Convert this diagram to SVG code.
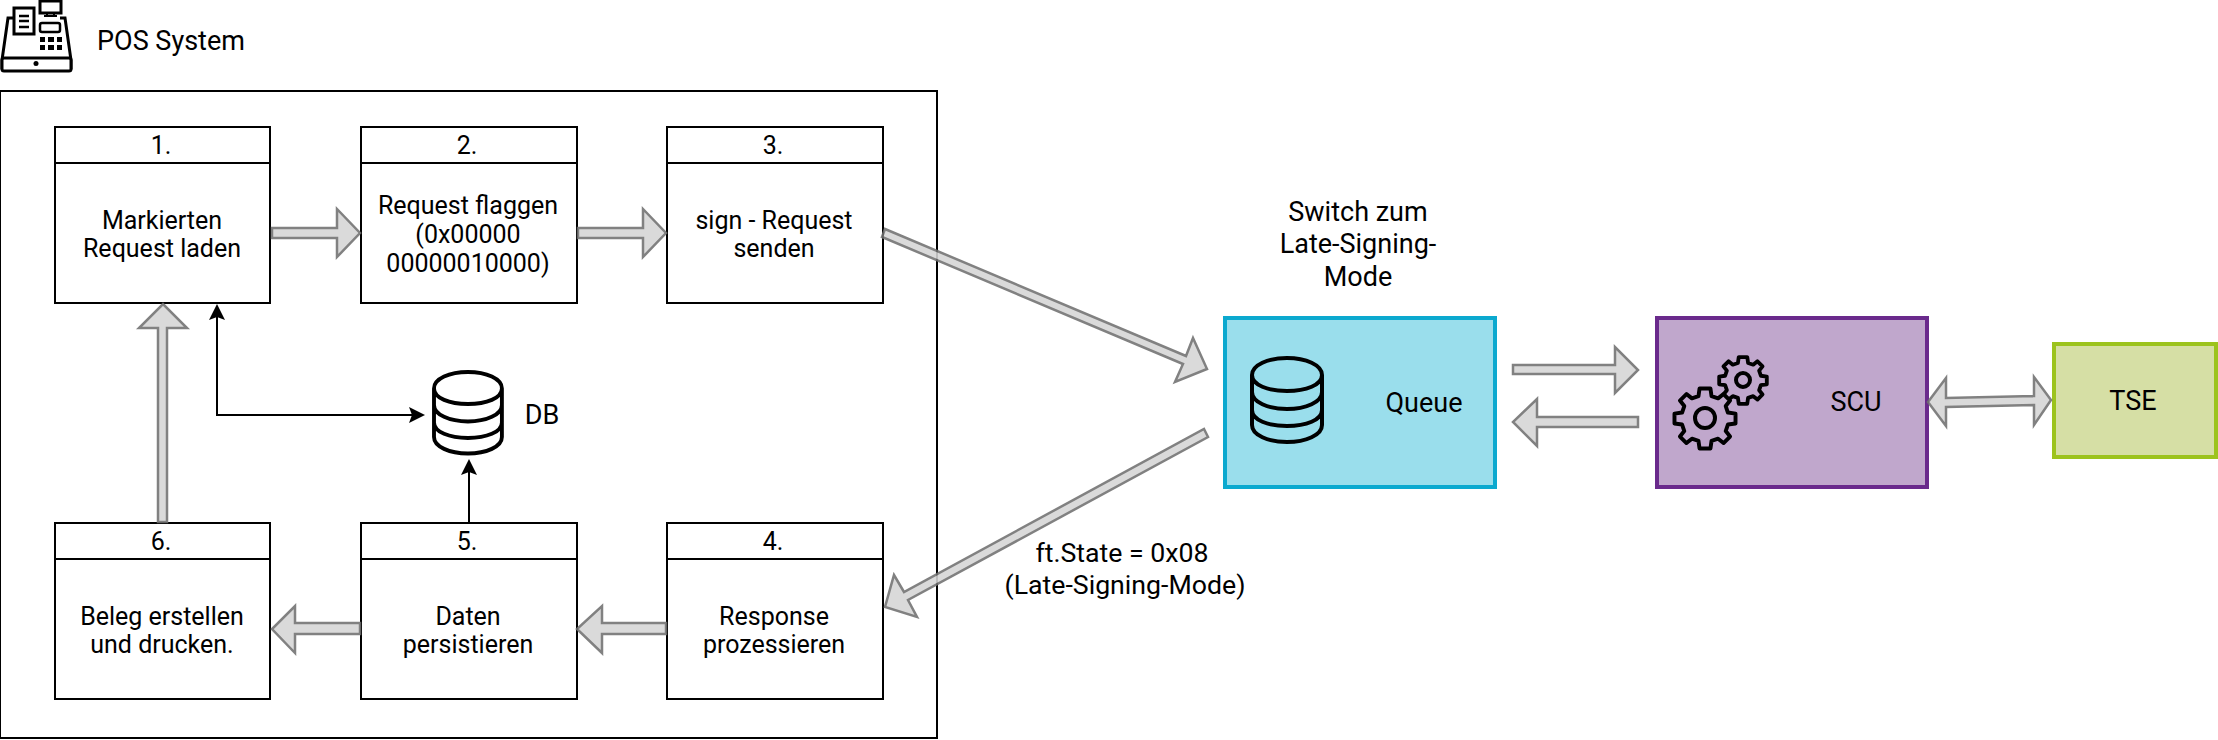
<svg xmlns="http://www.w3.org/2000/svg" width="2218" height="740" viewBox="0 0 2218 740">
<style>
text{font-family:Roboto,"Liberation Sans",sans-serif;font-size:25px;fill:#000;text-anchor:middle}
.lg{font-size:27px}
.b{fill:#fff;stroke:#000;stroke-width:2}
.ar{fill:#d6d6d6;stroke:#707070;stroke-width:2.500;opacity:.88}
.ln{fill:none;stroke:#000;stroke-width:2}
.hd{fill:#000;stroke:none}
.ic{fill:none;stroke:#000;stroke-width:4;stroke-linejoin:round;stroke-linecap:round}
</style>
<defs>
<g id="cyl"><path class="ic" d="M0 17C0 7 16 0 35 0S70 7 70 17V67C70 77 54 84 35 84S0 77 0 67ZM0 17C0 27 16 33 35 33S70 27 70 17M0 34C0 44 16 51 35 51S70 44 70 34M0 52C0 62 16 68 35 68S70 62 70 52"/></g>
<path id="gear" d="M-5 -27L5 -27L6 -20L12 -18L17 -22L23 -16L19 -11L21 -5L28 -4L28 5L21 6L19 12L23 17L17 23L12 19L6 21L5 28L-5 28L-6 21L-12 19L-17 23L-23 17L-19 12L-21 6L-28 5L-28 -4L-21 -5L-19 -11L-23 -16L-17 -22L-12 -18L-6 -20Z"/>
</defs>
<g id="pos-icon">
<path d="M14 18H8L2 60V68H71V60L65 18H60" fill="none" stroke="#000" stroke-width="3"/>
<rect x="2" y="58" width="69" height="13" rx="2" fill="#fff" stroke="#000" stroke-width="3"/>
<circle cx="36" cy="63.500" r="2.500" fill="#000"/>
<rect x="14" y="8" width="20" height="26" fill="#fff" stroke="#000" stroke-width="3"/>
<path d="M19 16H29M19 21H29M19 27H29" stroke="#000" stroke-width="2.500"/>
<rect x="40" y="1" width="21" height="12" fill="#fff" stroke="#000" stroke-width="3"/>
<path d="M47 13V16M54 13V16M44 16H57" stroke="#000" stroke-width="2"/>
<rect x="40" y="23" width="20" height="9" rx="2" fill="#fff" stroke="#000" stroke-width="2.500"/>
<path d="M40 37h5v5h-5zM48 37h6v5h-6zM57 37h5v5h-5zM40 45h5v5h-5zM48 45h6v5h-6zM57 45h5v5h-5z" fill="#000"/>
</g>
<text class="lg" x="171" y="50" id="pos-label">POS System</text>
<g id="pos-frame"><rect class="b" x="0" y="91" width="937" height="647"/></g>

<g id="n1"><rect class="b" x="55" y="127" width="215" height="36"/><rect class="b" x="55" y="163" width="215" height="140"/><text x="161" y="154">1.</text><text x="162" y="229">Markierten</text><text x="162" y="257">Request laden</text></g>
<g id="n2"><rect class="b" x="361" y="127" width="216" height="36"/><rect class="b" x="361" y="163" width="216" height="140"/><text x="467" y="154">2.</text><text x="468" y="214">Request flaggen</text><text x="468" y="243">(0x00000</text><text x="468" y="272">00000010000)</text></g>
<g id="n3"><rect class="b" x="667" y="127" width="216" height="36"/><rect class="b" x="667" y="163" width="216" height="140"/><text x="773" y="154">3.</text><text x="774" y="229">sign - Request</text><text x="774" y="257">senden</text></g>
<g id="n4"><rect class="b" x="667" y="523" width="216" height="36"/><rect class="b" x="667" y="559" width="216" height="140"/><text x="773" y="550">4.</text><text x="774" y="625">Response</text><text x="774" y="653">prozessieren</text></g>
<g id="n5"><rect class="b" x="361" y="523" width="216" height="36"/><rect class="b" x="361" y="559" width="216" height="140"/><text x="467" y="550">5.</text><text x="468" y="625">Daten</text><text x="468" y="653">persistieren</text></g>
<g id="n6"><rect class="b" x="55" y="523" width="215" height="36"/><rect class="b" x="55" y="559" width="215" height="140"/><text x="161" y="550">6.</text><text x="162" y="625">Beleg erstellen</text><text x="162" y="653">und drucken.</text></g>
<g id="db"><use href="#cyl" transform="translate(434 372) scale(.97)"/><text class="lg" x="542" y="424">DB</text></g>

<g id="queue"><rect x="1225" y="318" width="270" height="169" fill="#9adeec" stroke="#0ba9cf" stroke-width="4"/><use href="#cyl" x="1252" y="358"/><text class="lg" x="1424" y="412">Queue</text></g>
<g id="scu"><rect x="1657" y="318" width="270" height="169" fill="#c0a7cc" stroke="#6a2a8c" stroke-width="4"/>
<g fill="#c0a7cc" stroke="#000" stroke-linejoin="round"><use href="#gear" transform="translate(1743 380) scale(.85)" stroke-width="4.500"/><use href="#gear" transform="translate(1705 418) scale(1.09)" stroke-width="3.600"/></g>
<circle cx="1743" cy="380" r="7" fill="none" stroke="#000" stroke-width="4"/><circle cx="1705" cy="418" r="10" fill="none" stroke="#000" stroke-width="4"/>
<text class="lg" x="1856" y="411">SCU</text></g>
<g id="tse"><rect x="2054" y="344" width="162" height="113" fill="#d6dfa5" stroke="#9cc31d" stroke-width="4"/><text class="lg" x="2133" y="410">TSE</text></g>
<text class="lg" id="switch-label1" x="1358" y="221">Switch zum</text>
<text class="lg" id="switch-label2" x="1358" y="253">Late-Signing-</text>
<text class="lg" id="switch-label3" x="1358" y="286">Mode</text>
<text class="lg" style="font-size:26.700px" id="state-label1" x="1122" y="562">ft.State = 0x08</text>
<text class="lg" style="font-size:26.700px" id="state-label2" x="1125" y="594">(Late-Signing-Mode)</text>

<g id="connectors">
<path class="ar" d="M272 228H337V209L360 233L337 257V238H272Z"/>
<path class="ar" d="M578 228H643V209L666 233L643 257V238H578Z"/>
<path class="ar" d="M885 229L1186 356L1193 338L1207 369L1175 382L1183 364L882 237Z"/>
<path class="ar" d="M1513 365H1615V347L1638 370L1615 393V374H1513Z"/>
<path class="ar" d="M1638 417H1537V399L1513 422L1537 446V427H1638Z"/>
<path class="ar" d="M1928 402L1946 378V398L2034 396V377L2051 400L2034 425V405L1946 407V426Z"/>
<path class="ar" d="M1204 429L1208 437L908 600L917 617L885 607L894 575L904 592Z"/>
<path class="ar" d="M666 623H602V606L577 629L602 653V634H666Z"/>
<path class="ar" d="M360 623H295V606L272 629L295 653V634H360Z"/>
<path class="ar" d="M158 522V328H139L163 304L187 328H167V522Z"/>
<path class="ln" d="M217 316V415H413"/><path class="hd" d="M217 304L209 320L217 317L225 320ZM425 415L409 407L412 415L409 423Z"/>
<path class="ln" d="M469 523V470"/><path class="hd" d="M469 459L461 475L469 472L477 475Z"/>
</g>
</svg>
